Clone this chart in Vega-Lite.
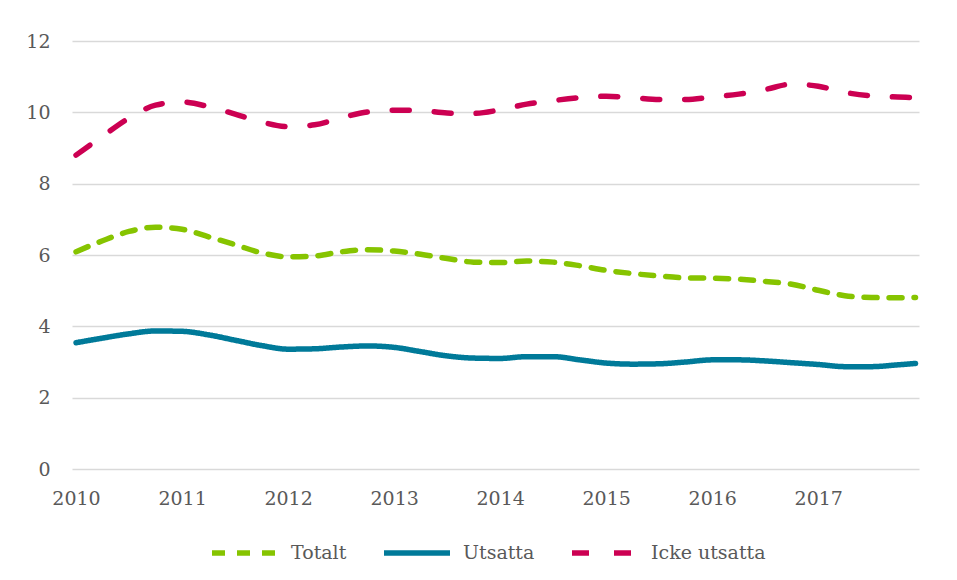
{
  "$schema": "https://vega.github.io/schema/vega-lite/v6.json",
  "width": 847,
  "height": 428,
  "autosize": "none",
  "padding": {"left": 72, "top": 41, "right": 38, "bottom": 111},
  "background": "white",
  "config": {
    "view": {"stroke": null},
    "font": "DejaVu Serif"
  },
  "data": {
    "values": [
      {"t": 2010.0, "Totalt": 6.09, "Utsatta": 3.54, "Icke utsatta": 8.80},
      {"t": 2010.25, "Totalt": 6.40, "Utsatta": 3.67, "Icke utsatta": 9.33},
      {"t": 2010.5, "Totalt": 6.66, "Utsatta": 3.79, "Icke utsatta": 9.84},
      {"t": 2010.75, "Totalt": 6.78, "Utsatta": 3.87, "Icke utsatta": 10.20},
      {"t": 2011.0, "Totalt": 6.72, "Utsatta": 3.86, "Icke utsatta": 10.29},
      {"t": 2011.25, "Totalt": 6.51, "Utsatta": 3.76, "Icke utsatta": 10.16},
      {"t": 2011.5, "Totalt": 6.29, "Utsatta": 3.61, "Icke utsatta": 9.95},
      {"t": 2011.75, "Totalt": 6.06, "Utsatta": 3.46, "Icke utsatta": 9.73},
      {"t": 2012.0, "Totalt": 5.95, "Utsatta": 3.36, "Icke utsatta": 9.60},
      {"t": 2012.25, "Totalt": 5.97, "Utsatta": 3.37, "Icke utsatta": 9.65},
      {"t": 2012.5, "Totalt": 6.09, "Utsatta": 3.42, "Icke utsatta": 9.85},
      {"t": 2012.75, "Totalt": 6.15, "Utsatta": 3.45, "Icke utsatta": 10.01},
      {"t": 2013.0, "Totalt": 6.11, "Utsatta": 3.41, "Icke utsatta": 10.06},
      {"t": 2013.25, "Totalt": 6.02, "Utsatta": 3.29, "Icke utsatta": 10.05},
      {"t": 2013.5, "Totalt": 5.90, "Utsatta": 3.17, "Icke utsatta": 9.98},
      {"t": 2013.75, "Totalt": 5.80, "Utsatta": 3.11, "Icke utsatta": 9.97},
      {"t": 2014.0, "Totalt": 5.79, "Utsatta": 3.10, "Icke utsatta": 10.07},
      {"t": 2014.25, "Totalt": 5.83, "Utsatta": 3.15, "Icke utsatta": 10.23},
      {"t": 2014.5, "Totalt": 5.80, "Utsatta": 3.15, "Icke utsatta": 10.33},
      {"t": 2014.75, "Totalt": 5.70, "Utsatta": 3.06, "Icke utsatta": 10.41},
      {"t": 2015.0, "Totalt": 5.57, "Utsatta": 2.97, "Icke utsatta": 10.45},
      {"t": 2015.25, "Totalt": 5.48, "Utsatta": 2.94, "Icke utsatta": 10.41},
      {"t": 2015.5, "Totalt": 5.41, "Utsatta": 2.95, "Icke utsatta": 10.36},
      {"t": 2015.75, "Totalt": 5.36, "Utsatta": 3.00, "Icke utsatta": 10.36},
      {"t": 2016.0, "Totalt": 5.35, "Utsatta": 3.06, "Icke utsatta": 10.43},
      {"t": 2016.25, "Totalt": 5.32, "Utsatta": 3.06, "Icke utsatta": 10.51},
      {"t": 2016.5, "Totalt": 5.26, "Utsatta": 3.03, "Icke utsatta": 10.64},
      {"t": 2016.75, "Totalt": 5.18, "Utsatta": 2.98, "Icke utsatta": 10.79},
      {"t": 2017.0, "Totalt": 5.01, "Utsatta": 2.93, "Icke utsatta": 10.73},
      {"t": 2017.25, "Totalt": 4.86, "Utsatta": 2.87, "Icke utsatta": 10.56},
      {"t": 2017.5, "Totalt": 4.81, "Utsatta": 2.87, "Icke utsatta": 10.46},
      {"t": 2017.75, "Totalt": 4.80, "Utsatta": 2.92, "Icke utsatta": 10.43},
      {"t": 2017.917, "Totalt": 4.81, "Utsatta": 2.96, "Icke utsatta": 10.41}
    ]
  },
  "transform": [
    {"fold": ["Totalt", "Utsatta", "Icke utsatta"], "as": ["serie", "v"]}
  ],
  "mark": {"type": "line", "interpolate": "monotone", "strokeWidth": 5.5, "strokeCap": "round", "strokeJoin": "round"},
  "encoding": {
    "x": {
      "field": "t",
      "type": "quantitative",
      "scale": {"domain": [2009.962, 2017.95], "nice": false, "zero": false},
      "axis": {
        "title": null,
        "values": [2010, 2011, 2012, 2013, 2014, 2015, 2016, 2017],
        "format": "d",
        "grid": false,
        "ticks": false,
        "domain": false,
        "labelFontSize": 19,
        "labelColor": "#595959",
        "labelPadding": 20,
        "labelFont": "DejaVu Serif"
      }
    },
    "y": {
      "field": "v",
      "type": "quantitative",
      "scale": {"domain": [0, 12], "nice": false},
      "axis": {
        "title": null,
        "values": [0, 2, 4, 6, 8, 10, 12],
        "grid": true,
        "gridColor": "#D9D9D9",
        "gridWidth": 1.3,
        "ticks": false,
        "domain": false,
        "labelFontSize": 19,
        "labelColor": "#595959",
        "labelPadding": 22,
        "labelFont": "DejaVu Serif"
      }
    },
    "color": {
      "field": "serie",
      "type": "nominal",
      "scale": {"domain": ["Totalt", "Utsatta", "Icke utsatta"], "range": ["#86C400", "#007A99", "#CC0052"]},
      "legend": {
        "title": null,
        "orient": "none",
        "direction": "horizontal",
        "legendX": 137,
        "legendY": 476,
        "symbolType": "stroke",
        "symbolSize": 4356,
        "symbolStrokeWidth": 5.5,
        "labelFontSize": 19,
        "labelColor": "#595959",
        "labelFont": "DejaVu Serif",
        "labelOffset": 10,
        "columnPadding": 26
      }
    },
    "strokeDash": {
      "field": "serie",
      "type": "nominal",
      "scale": {"domain": ["Totalt", "Utsatta", "Icke utsatta"], "range": [[13, 12], [1, 0], [17, 25]]},
      "legend": {
        "title": null,
        "orient": "none",
        "direction": "horizontal",
        "legendX": 137,
        "legendY": 476,
        "symbolType": "stroke",
        "symbolSize": 4356,
        "symbolStrokeWidth": 5.5,
        "labelFontSize": 19,
        "labelColor": "#595959",
        "labelFont": "DejaVu Serif",
        "labelOffset": 10,
        "columnPadding": 26
      }
    }
  }
}
